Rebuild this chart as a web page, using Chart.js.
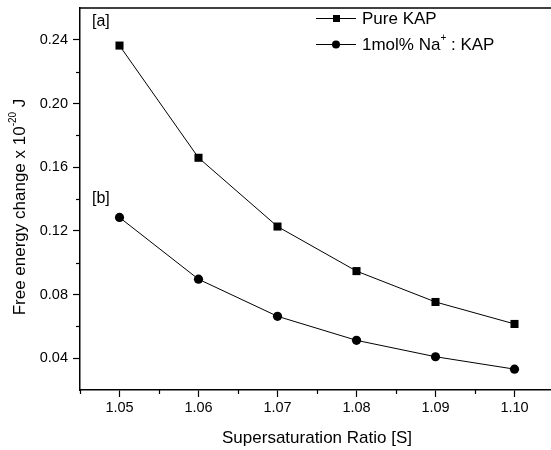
<!DOCTYPE html>
<html>
<head>
<meta charset="utf-8">
<script src="https://cdn.jsdelivr.net/npm/chart.js@4.4.1/dist/chart.umd.min.js"></script>
<style>
  html, body { margin: 0; padding: 0; background: #fff; }
  #wrap { width: 551px; height: 450px; overflow: hidden; }
  canvas { display: block; }
</style>
</head>
<body>
<div id="wrap"><canvas id="energy-canvas" width="560" height="450"></canvas></div>
<script>
/* ---------- data ---------- */
const ratios   = [1.05, 1.06, 1.07, 1.08, 1.09, 1.10];
const pureKap  = [0.2364, 0.1659, 0.1227, 0.0947, 0.0753, 0.0615];
const dopedKap = [0.1284, 0.0896, 0.0663, 0.0512, 0.0409, 0.0331];

const xRange = [1.045, 1.105];
const yRange = [0.02, 0.26];
const yTicks = [0.04, 0.08, 0.12, 0.16, 0.20, 0.24];

const pureLabel  = ["Pure KAP", "", ""];
const dopedLabel = ["1mol% Na", "+", " : KAP"];   // text, superscript, tail
const yTitle     = ["Free energy change x 10", "-20", " J"];
const xTitle     = "Supersaturation Ratio [S]";
const panelTags  = ["[a]", "[b]"];

/* ---------- styling helpers ---------- */
const FAMILY = '"Liberation Sans", Arial, Helvetica, sans-serif';
const INK = "#000";
const font = size => `${size}px ${FAMILY}`;

// draws "text + superscript + tail" starting at x, vertically centred on y
function drawSupText(ctx, parts, x, y, size, align) {
    const [main, sup, tail] = parts;
    const supSize = Math.round(size * 0.6);
    ctx.font = font(size);
    const wMain = ctx.measureText(main).width;
    const wTail = ctx.measureText(tail).width;
    ctx.font = font(supSize);
    const wSup = ctx.measureText(sup).width;
    const total = wMain + wSup + wTail;
    let cx = align === "center" ? x - total / 2 : x;

    ctx.textAlign = "left";
    ctx.textBaseline = "middle";
    ctx.fillStyle = INK;
    ctx.font = font(size);
    ctx.fillText(main, cx, y);
    cx += wMain;
    ctx.font = font(supSize);
    ctx.fillText(sup, cx, y - size * 0.38);
    cx += wSup;
    ctx.font = font(size);
    ctx.fillText(tail, cx, y);
}

// keep the plot box fixed: no extra room reserved for overhanging labels
function noOverhang(s) {
    s.paddingTop = 0;
    s.paddingBottom = 0;
    s.paddingLeft = 0;
    s.paddingRight = 0;
}

/* ---------- frame, minor ticks, legend, annotations ---------- */
const decorations = {
    id: "decorations",
    afterDraw(chart) {
        const { ctx, chartArea: area, scales: { x, y } } = chart;
        ctx.save();

        // top frame line
        ctx.strokeStyle = INK;
        ctx.lineWidth = 1.5;
        ctx.beginPath();
        ctx.moveTo(area.left - 0.75, area.top);
        ctx.lineTo(area.right, area.top);
        ctx.stroke();

        // minor ticks halfway between the labelled ones
        ctx.lineWidth = 1.2;
        const xStep = ratios[1] - ratios[0];
        const xMinor = [ratios[0] - xStep / 2];
        ratios.forEach(v => xMinor.push(v + xStep / 2));
        xMinor.forEach(v => {
            const px = Math.round(x.getPixelForValue(v)) + 0.5;
            ctx.beginPath();
            ctx.moveTo(px, area.bottom);
            ctx.lineTo(px, area.bottom + 4);
            ctx.stroke();
        });
        for (let i = 0; i < yTicks.length - 1; i++) {
            const py = Math.round(y.getPixelForValue((yTicks[i] + yTicks[i + 1]) / 2)) + 0.5;
            ctx.beginPath();
            ctx.moveTo(area.left, py);
            ctx.lineTo(area.left - 4, py);
            ctx.stroke();
        }

        // y axis title, rotated, with superscript exponent
        ctx.save();
        ctx.translate(20, 207);
        ctx.rotate(-Math.PI / 2);
        drawSupText(ctx, yTitle, 0, 0, 17, "center");
        ctx.restore();

        // panel tags
        ctx.font = font(16);
        ctx.fillStyle = INK;
        ctx.textAlign = "left";
        ctx.textBaseline = "middle";
        ctx.fillText(panelTags[0], 92, 22);
        ctx.fillText(panelTags[1], 92, 199);

        // legend
        const rows = [
            { parts: pureLabel, style: "rect", y: 18 },
            { parts: dopedLabel, style: "circle", y: 44 }
        ];
        rows.forEach(r => {
            ctx.strokeStyle = INK;
            ctx.lineWidth = 1;
            ctx.beginPath();
            ctx.moveTo(316, r.y + 0.5);
            ctx.lineTo(356, r.y + 0.5);
            ctx.stroke();
            ctx.fillStyle = INK;
            if (r.style === "rect") {
                ctx.fillRect(333, r.y - 3, 7, 7);
            } else {
                ctx.beginPath();
                ctx.arc(336, r.y + 0.5, 4, 0, Math.PI * 2);
                ctx.fill();
            }
            drawSupText(ctx, r.parts, 362, r.y + 1, 17, "left");
        });

        ctx.restore();
    }
};

/* ---------- chart ---------- */
const ctx = document.getElementById("energy-canvas").getContext("2d");

new Chart(ctx, {
    type: "line",
    data: {
        datasets: [
            {
                label: pureLabel.join(""),
                data: ratios.map((r, i) => ({ x: r, y: pureKap[i] })),
                borderColor: INK,
                backgroundColor: INK,
                borderWidth: 1,
                pointStyle: "rect",
                pointRadius: 5.7,
                pointBorderWidth: 0,
                tension: 0
            },
            {
                label: dopedLabel.join(""),
                data: ratios.map((r, i) => ({ x: r, y: dopedKap[i] })),
                borderColor: INK,
                backgroundColor: INK,
                borderWidth: 1,
                pointStyle: "circle",
                pointRadius: 4.6,
                pointBorderWidth: 0,
                tension: 0
            }
        ]
    },
    options: {
        responsive: false,
        animation: false,
        layout: { padding: { top: 8, right: 6, left: 0, bottom: 0 } },
        plugins: {
            legend: { display: false },
            tooltip: { enabled: false }
        },
        scales: {
            x: {
                type: "linear",
                min: xRange[0],
                max: xRange[1],
                afterBuildTicks: s => { s.ticks = ratios.map(v => ({ value: v })); },
                afterFit: s => { s.height = 60; noOverhang(s); },
                ticks: {
                    callback: v => v.toFixed(2),
                    font: { family: FAMILY, size: 14.5 },
                    color: INK,
                    padding: 2,
                    autoSkip: false,
                    maxRotation: 0
                },
                grid: {
                    drawOnChartArea: false,
                    tickLength: 7,
                    tickWidth: 1.2,
                    tickColor: INK
                },
                border: { color: INK, width: 1.5 },
                title: {
                    display: true,
                    text: xTitle,
                    color: INK,
                    font: { family: FAMILY, size: 17 },
                    padding: { top: 0, bottom: 1 }
                }
            },
            y: {
                type: "linear",
                min: yRange[0],
                max: yRange[1],
                afterBuildTicks: s => { s.ticks = yTicks.map(v => ({ value: v })); },
                afterFit: s => { s.width = 80; noOverhang(s); },
                ticks: {
                    callback: v => v.toFixed(2),
                    font: { family: FAMILY, size: 14.5 },
                    color: INK,
                    padding: 5
                },
                grid: {
                    drawOnChartArea: false,
                    tickLength: 7,
                    tickWidth: 1.2,
                    tickColor: INK
                },
                border: { color: INK, width: 1.5 }
            }
        }
    },
    plugins: [decorations]
});
</script>
</body>
</html>
